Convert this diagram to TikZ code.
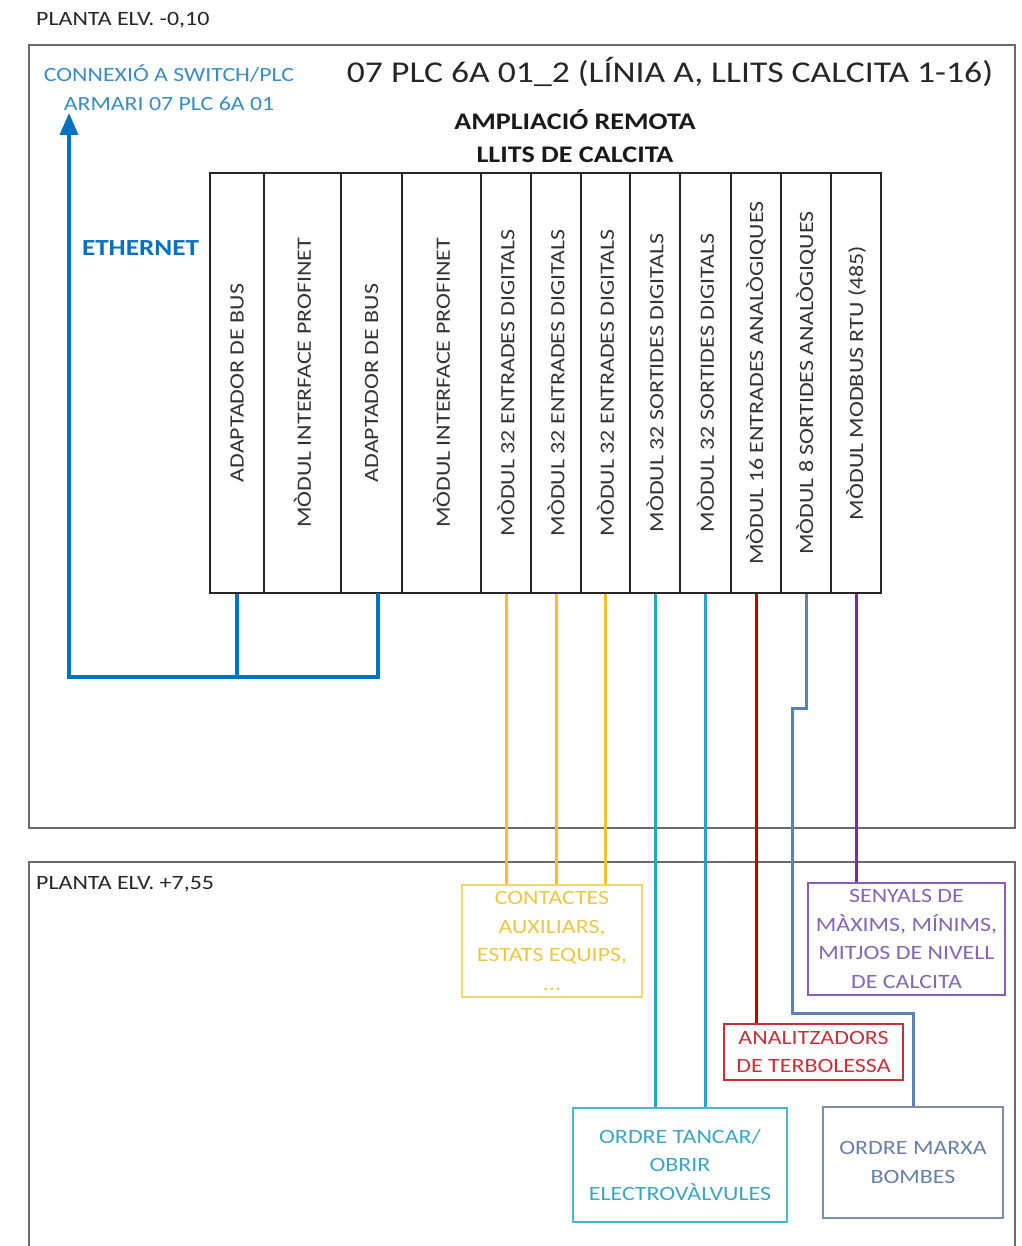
\documentclass[tikz,border=0pt]{standalone}
\usepackage{fontspec}
\setmainfont{Carlito}[FakeStretch=1.18]
\usetikzlibrary{arrows.meta,calc}
\newcommand{\fsz}[2]{\fontsize{#1pt}{#2pt}\selectfont}
\definecolor{frameg}{HTML}{6B6B6B}
\definecolor{ethblue}{HTML}{0070C0}
\definecolor{lightblue}{HTML}{3A8CC4}
\definecolor{yel}{HTML}{F5C02A}
\definecolor{yelbox}{HTML}{F2D76A}
\definecolor{yeltext}{HTML}{E9C845}
\definecolor{cyanl}{HTML}{1EA8CB}
\definecolor{cyanbox}{HTML}{45B8D6}
\definecolor{redl}{HTML}{C00000}
\definecolor{redbox}{HTML}{C8303A}
\definecolor{slatel}{HTML}{5F80B2}
\definecolor{slatebox}{HTML}{7D8FA8}
\definecolor{slatetext}{HTML}{6880A6}
\definecolor{purl}{HTML}{7030A0}
\definecolor{purbox}{HTML}{8A5CC0}
\definecolor{purtext}{HTML}{8466B6}
\begin{document}
\begin{tikzpicture}[x=1pt,y=-1pt,
  frame/.style={draw=frameg, line width=2.5pt},
  modbox/.style={draw=black!85, line width=1.6pt, minimum height=420pt, inner sep=0pt},
  modtext/.style={rotate=90, font=\fsz{20.3}{24}, text=black!80, inner sep=0pt},
  plain/.style={font=\fsz{20.3}{24}, text=black!85, inner sep=0pt},
  infobox/.style={line width=2pt, align=center, font=\fsz{20.3}{28.5}, inner sep=0pt},
  eth/.style={draw=ethblue, line width=4pt},
  conn/.style={line width=3pt}
]
\useasboundingbox (0,0) rectangle (1021,1246);
\clip (0,0) rectangle (1021,1246);
\fill[white] (0,0) rectangle (1021,1246);

% frames
\draw[frame] (29,45) rectangle (1015,828);
\draw[frame] (29,862) rectangle (1015,1280);

% texts
\node[plain, anchor=west] (pl1) at (36,20) {PLANTA ELV. -0,10};
\node[plain, anchor=west] (pl2) at (36,884) {PLANTA ELV. +7,55};
\node[font=\fsz{30.2}{36}, text=black!85, inner sep=0pt] (title) at (670,72) {07 PLC 6A 01\_2 (LÍNIA A, LLITS CALCITA 1-16)};
\node[font=\bfseries\fsz{23.8}{33}, text=black!90, align=center, inner sep=0pt] (ampl) at (575,136) {AMPLIACIÓ REMOTA\\LLITS DE CALCITA};
\node[font=\fsz{20.2}{29}, text=lightblue, align=center, inner sep=0pt] (conx) at (169,88) {CONNEXIÓ A SWITCH/PLC\\ARMARI 07 PLC 6A 01};
\node[font=\bfseries\fsz{23}{28}, text=ethblue, inner sep=0pt] (ethlab) at (140.5,248) {ETHERNET};

% modules
\node[modbox, minimum width=54pt] (m1) at (237,383) {};
\node[modbox, minimum width=77pt] (m2) at (302.5,383) {};
\node[modbox, minimum width=61pt] (m3) at (371.5,383) {};
\node[modbox, minimum width=79pt] (m4) at (441.5,383) {};
\node[modbox, minimum width=50pt] (m5) at (506,383) {};
\node[modbox, minimum width=50pt] (m6) at (556,383) {};
\node[modbox, minimum width=49pt] (m7) at (605.5,383) {};
\node[modbox, minimum width=50pt] (m8) at (655,383) {};
\node[modbox, minimum width=51pt] (m9) at (705.5,383) {};
\node[modbox, minimum width=50pt] (m10) at (756,383) {};
\node[modbox, minimum width=50pt] (m11) at (806,383) {};
\node[modbox, minimum width=50pt] (m12) at (856,383) {};

\node[modtext] (t1) at (m1) {ADAPTADOR DE BUS};
\node[modtext] (t2) at (m2) {MÒDUL INTERFACE PROFINET};
\node[modtext] (t3) at (m3) {ADAPTADOR DE BUS};
\node[modtext] (t4) at (m4) {MÒDUL INTERFACE PROFINET};
\node[modtext] (t5) at (m5) {MÒDUL 32 ENTRADES DIGITALS};
\node[modtext] (t6) at (m6) {MÒDUL 32 ENTRADES DIGITALS};
\node[modtext] (t7) at (m7) {MÒDUL 32 ENTRADES DIGITALS};
\node[modtext] (t8) at (m8) {MÒDUL 32 SORTIDES DIGITALS};
\node[modtext] (t9) at (m9) {MÒDUL 32 SORTIDES DIGITALS};
\node[modtext] (t10) at (m10) {MÒDUL 16 ENTRADES ANALÒGIQUES};
\node[modtext] (t11) at (m11) {MÒDUL 8 SORTIDES ANALÒGIQUES};
\node[modtext] (t12) at (m12) {MÒDUL MODBUS RTU (485)};

% destination boxes
\node[infobox, draw=yelbox, text=yeltext, minimum width=180pt, minimum height=112pt] (yb) at (552,941)
  {CONTACTES\\AUXILIARS,\\ESTATS EQUIPS,\\...};
\node[infobox, draw=purbox, text=purtext, minimum width=197pt, minimum height=112pt] (pb) at (906.5,939)
  {SENYALS DE\\MÀXIMS, MÍNIMS,\\MITJOS DE NIVELL\\DE CALCITA};
\node[infobox, draw=redbox, text=redbox, minimum width=179pt, minimum height=56pt] (rb) at (813.5,1052)
  {ANALITZADORS\\DE TERBOLESSA};
\node[infobox, draw=cyanbox, text=cyanbox!90!black, minimum width=214pt, minimum height=114pt] (cb) at (680,1165)
  {ORDRE TANCAR/\\OBRIR\\ELECTROVÀLVULES};
\node[infobox, draw=slatebox, text=slatetext, minimum width=180pt, minimum height=111pt] (sb) at (913,1162.5)
  {ORDRE MARXA\\BOMBES};

% ethernet connectors
\coordinate (ethc) at (69,677);
\coordinate (etht) at (69,113);
\coordinate (m3p) at (378,593);
\draw[eth] (m1.south) -- (m1.south |- ethc);
\draw[eth, -{Triangle[length=22pt,width=18pt]}] (m3p) |- (ethc) -- (etht);

% signal connectors
\draw[conn, draw=yel] (m5.south) -- (m5.south |- yb.north);
\draw[conn, draw=yel] (m6.south) -- (m6.south |- yb.north);
\draw[conn, draw=yel] (m7.south) -- (m7.south |- yb.north);
\draw[conn, draw=cyanl] (m8.south) -- (m8.south |- cb.north);
\draw[conn, draw=cyanl] (m9.south) -- (m9.south |- cb.north);
\draw[conn, draw=redl] (m10.south) -- (m10.south |- rb.north);
\coordinate (s1) at (806,708);
\coordinate (s2) at (792,1013);
\draw[conn, draw=slatel] (m11.south) -- (s1) -| (s2) -| (sb.north);
\draw[conn, draw=purl] (m12.south) -- (m12.south |- pb.north);
\end{tikzpicture}
\end{document}
